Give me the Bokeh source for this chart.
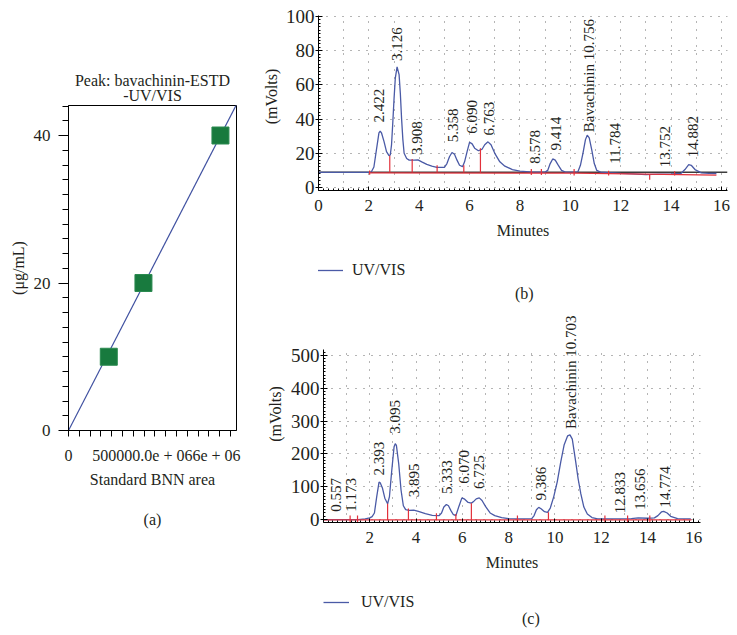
import math
import numpy as np
from bokeh.plotting import figure
from bokeh.layouts import row, column
from bokeh.models import (Label, Span, Legend, LegendItem, SingleIntervalTicker,
                          FixedTicker, Range1d, Title)
from bokeh.embed import file_html
from bokeh.resources import INLINE

FONT = "Liberation Serif"
INK = "#231f20"
BLUE = "#4a5aa6"
RED = "#e2313b"
GREEN = "#187a3e"
GRIDC = "#6a6a6a"

# ---------------- (a) calibration data ----------------
cal_conc = [10, 20, 40]                      # ug/mL
cal_area = [373000, 694000, 1407000]         # standard BNN area
a_title = ["Peak: bavachinin-ESTD", "-UV/VIS"]
a_xtick_text = "500000.0e + 066e + 06"

# ---------------- (b) standard chromatogram ----------------
b_time = [0.0, 2.0, 2.1, 2.2, 2.3, 2.4, 2.45, 2.5, 2.6, 2.7, 2.8, 2.85, 2.9, 2.95, 3.0,
          3.05, 3.12, 3.2, 3.25, 3.3, 3.35, 3.4, 3.5, 3.6, 3.8, 3.95, 4.1, 4.3, 4.5, 4.7,
          5.0, 5.1, 5.2, 5.3, 5.4, 5.5, 5.6, 5.72, 5.8, 5.9, 6.0, 6.1, 6.2, 6.35, 6.5,
          6.6, 6.73, 6.85, 7.0, 7.2, 7.4, 7.7, 8.0, 8.5, 9.0, 9.1, 9.2, 9.3, 9.4, 9.5,
          9.65, 9.8, 10.3, 10.4, 10.5, 10.6, 10.67, 10.75, 10.85, 10.95, 11.05, 11.2,
          11.5, 12.0, 12.5, 13.0, 13.5, 14.0, 14.4, 14.55, 14.7, 14.8, 14.95, 15.2,
          15.5, 15.8]
b_mv = [8.9, 8.9, 9.2, 12, 22, 32, 33, 32, 27, 21, 18.6, 19, 25, 38, 52,
        64, 70.5, 66, 55, 40, 28, 20, 17, 16, 16, 16.2, 15, 13.5, 12.5, 11.8,
        11.8, 14, 18, 20.5, 19.5, 16, 13, 12.2, 15, 21, 26.5, 25.5, 23, 21.5, 22.5,
        25, 26.7, 25, 20, 15, 12.5, 10.5, 9.6, 9.0, 9.0, 10, 14, 16.7, 16, 13.5,
        10, 9, 9.2, 13, 20, 28, 30.6, 29, 22, 14, 10, 9,
        8.7, 8.3, 8.0, 7.5, 7.8, 8.0, 8.3, 10.5, 13.4, 13, 10.5, 8.6,
        8.3, 8.2]
b_zero_level = 8.9
b_labels = ["2.422", "3.126", "3.908", "5.358", "6.090", "6.763", "8.578", "9.414",
            "Bavachinin 10.756", "11.784", "13.752", "14.882"]
b_label_y = [38, 74, 19, 26.5, 31.4, 30.4, 13.9, 21.6, 32.3, 13.9, 11.9, 17.7]
b_split_t = [2.03, 2.83, 3.72, 4.71, 5.77, 6.43, 8.45, 8.85, 10.15, 11.52, 13.15, 14.14]
b_split_lo = [7.5, 8.8, 8.8, 8.8, 8.8, 8.7, 7.3, 7.3, 7.0, 7.0, 4.5, 7.0]
b_split_hi = [10.0, 18.6, 16.7, 13.0, 13.0, 23.0, 10.8, 10.8, 10.8, 9.8, 7.5, 9.5]
b_base_t = [2.03, 10.15, 15.8]
b_base_v = [8.6, 8.4, 7.2]

# ---------------- (c) sample chromatogram ----------------
c_time = [0.0, 1.5, 1.8, 2.0, 2.1, 2.2, 2.3, 2.4, 2.45, 2.55, 2.65, 2.77, 2.85, 2.95,
          3.05, 3.1, 3.15, 3.25, 3.35, 3.45, 3.55, 3.7, 3.9, 4.1, 4.4, 4.7, 5.0, 5.1,
          5.2, 5.31, 5.4, 5.5, 5.6, 5.72, 5.85, 5.98, 6.1, 6.25, 6.39, 6.5, 6.6, 6.73,
          6.85, 7.0, 7.2, 7.4, 7.7, 8.0, 8.5, 9.0, 9.1, 9.2, 9.3, 9.4, 9.55, 9.68, 9.8,
          9.95, 10.1, 10.25, 10.4, 10.55, 10.65, 10.75, 10.9, 11.0, 11.12, 11.25, 11.4,
          11.6, 11.85, 12.5, 13.3, 13.6, 14.0, 14.3, 14.45, 14.6, 14.7, 14.85, 15.0,
          15.3, 15.87]
c_mv = [0, 0, 2, 5, 9, 20, 70, 114, 112, 95, 65, 48, 70, 150,
        222, 231, 226, 170, 90, 42, 30, 28, 29, 25, 18, 13, 12, 20,
        38, 46, 42, 28, 16, 12, 40, 66, 62, 52, 50, 56, 63, 66,
        58, 40, 20, 12, 6, 3, 2, 3, 12, 30, 37, 33, 24, 22, 35,
        70, 115, 175, 228, 255, 258, 245, 175, 125, 78, 38, 17,
        6, 2, 2, 3, 5, 4, 5, 12, 23, 25, 20, 10,
        3, 2]
c_labels = ["0.557", "1.173", "2.393", "3.095", "3.895", "5.333", "6.070", "6.725",
            "9.386", "Bavachinin 10.703", "12.833", "13.656", "14.774"]
c_label_y = [24, 24, 134, 261, 68, 78, 109, 93, 58, 276, 19, 30, 37]
c_split_t = [1.15, 1.47, 2.77, 3.67, 4.88, 5.72, 6.39, 8.38, 9.72, 12.16, 13.14, 14.1]
c_split_lo = [-8, -8, -2, -2, -2, -2, -2, -8, -2, -8, -8, -8]
c_split_hi = [12, 12, 48, 34, 19, 17, 50, 12, 22, 12, 12, 12]
c_base_t = [0.0, 15.9]
c_base_v = [-1, -1]

legend_text = "UV/VIS"


def no_align(p):
    try:
        p.frame_align = False
    except Exception:
        pass


def style_axes(p, tick_font="17px"):
    for ax in (p.xaxis[0], p.yaxis[0]):
        ax.axis_line_color = "black"
        ax.major_tick_line_color = "black"
        ax.minor_tick_line_color = "black"
        ax.major_label_text_font = FONT
        ax.major_label_text_font_size = tick_font
        ax.major_label_text_color = INK
        ax.axis_label_text_font = FONT
        ax.axis_label_text_font_size = "16px"
        ax.axis_label_text_font_style = "normal"
        ax.axis_label_text_color = INK


def side_title(p, text, offset, standoff):
    t = Title(text=text, align="center", offset=offset, text_font=FONT,
              text_font_size="16px", text_font_style="normal", text_color=INK)
    try:
        t.standoff = standoff
    except Exception:
        pass
    p.add_layout(t, "left")


def add_text(p, x, y, text, angle=0.0, align="center", baseline="middle", size="16px"):
    p.add_layout(Label(x=x, y=y, text=text, angle=angle, text_align=align,
                       text_baseline=baseline, text_font=FONT, text_font_size=size,
                       text_color=INK))


def blank(width, height, xr, bl, br):
    p = figure(width=width, height=height, x_range=Range1d(*xr), y_range=Range1d(0, height),
               output_backend="svg", toolbar_location=None,
               x_axis_location=None, y_axis_location=None,
               min_border_left=bl, min_border_right=br, min_border_top=0, min_border_bottom=0)
    p.grid.visible = False
    p.outline_line_color = None
    no_align(p)
    return p


# ======================= panel (a) =======================
xa_end = 1.5556e6
ya_end = 44.07
AW = 258
ta = blank(AW, 104, (0, xa_end), 68, 22)
add_text(ta, xa_end / 2, 24, a_title[0])
add_text(ta, xa_end / 2, 9, a_title[1])

pa = figure(width=AW, height=392, x_range=Range1d(0, xa_end), y_range=Range1d(0, ya_end),
            output_backend="svg", toolbar_location=None,
            min_border_left=68, min_border_right=22, min_border_top=1, min_border_bottom=66)
no_align(pa)
pa.grid.visible = False
pa.outline_line_color = "black"
style_axes(pa)
pa.xaxis.ticker = FixedTicker(ticks=[0, 907400],
                              minor_ticks=[100000 * i for i in range(0, 16)])
pa.xaxis.major_label_overrides = {0: "0", 907400: a_xtick_text}
pa.xaxis.major_label_text_font_size = "16px"
pa.xaxis.major_tick_out = 0
pa.xaxis.major_tick_in = 0
pa.xaxis.minor_tick_out = 6
pa.xaxis.minor_tick_in = 0
pa.xaxis.major_label_standoff = 10
pa.xaxis.axis_label = "Standard BNN area"
pa.xaxis.axis_label_standoff = 4
pa.yaxis.ticker = SingleIntervalTicker(interval=20, num_minor_ticks=10)
pa.yaxis.major_tick_out = 10
pa.yaxis.major_tick_in = 0
pa.yaxis.minor_tick_out = 6
pa.yaxis.minor_tick_in = 0
pa.yaxis.major_label_standoff = 8
side_title(pa, "(\u03bcg/mL)", -15.5, 8)

x_arr = np.array(cal_area, dtype=float)
y_arr = np.array(cal_conc, dtype=float)
slope = float((x_arr * y_arr).sum() / (x_arr ** 2).sum())
fit_x = np.array([0.0, 1.2 * x_arr.max()])
pa.line(fit_x, slope * fit_x, line_color="#3f50a0", line_width=1.2)
pa.scatter(cal_area, cal_conc, marker="square", size=17, fill_color=GREEN,
           line_color="#2b8a50", line_width=1)

capa = blank(AW, 50, (0, xa_end), 68, 22)
add_text(capa, xa_end / 2, 27, "(a)")


# ======================= chromatograms =======================
def chromatogram(width, height, xr, yr, ybounds, borders, t, v, labels, label_y,
                 split_t, split_lo, split_hi, base_t, base_v, yint, xticker,
                 ylab_standoff, ylab_offset=None, zero_level=None):
    bl, br, bt, bb = borders
    p = figure(width=width, height=height, x_range=Range1d(*xr), y_range=Range1d(*yr),
               output_backend="svg", toolbar_location=None,
               min_border_left=bl, min_border_right=br, min_border_top=bt, min_border_bottom=bb)
    no_align(p)
    p.outline_line_color = None
    style_axes(p)
    p.yaxis.major_label_text_font_size = "19px"
    p.xaxis.ticker = xticker
    p.yaxis.ticker = SingleIntervalTicker(interval=yint, num_minor_ticks=10)
    p.yaxis.bounds = ybounds
    p.xgrid.ticker = SingleIntervalTicker(interval=1)
    try:
        p.xgrid.cross_bounds = ybounds
    except Exception:
        pass
    p.ygrid.bounds = ybounds
    for g in (p.xgrid[0], p.ygrid[0]):
        g.grid_line_color = GRIDC
        g.grid_line_dash = "1 7"
        g.grid_line_width = 1
    for ax in (p.xaxis[0], p.yaxis[0]):
        ax.major_tick_in = 4
        ax.major_tick_out = 3
        ax.minor_tick_in = 2
        ax.minor_tick_out = 0
        ax.major_label_standoff = 1
    p.xaxis.major_tick_out = 0
    p.xaxis.major_label_standoff = 9
    p.xaxis.axis_label = "Minutes"
    p.xaxis.axis_label_standoff = 8
    if ylab_offset is None:
        p.yaxis.axis_label = "(mVolts)"
        p.yaxis.axis_label_standoff = ylab_standoff
    else:
        side_title(p, "(mVolts)", ylab_offset, ylab_standoff)

    if zero_level is not None:
        p.add_layout(Span(location=zero_level, dimension="width", line_color="#3c3c3c",
                          line_width=1.6, level="underlay"))
    p.line(t, v, line_color=BLUE, line_width=1.3)
    p.line(base_t, base_v, line_color=RED, line_width=1.2)
    p.segment(x0=split_t, y0=split_lo, x1=split_t, y1=split_hi, line_color=RED, line_width=1.2)

    for txt, yb in zip(labels, label_y):
        xt = float(txt.split()[-1])
        add_text(p, xt, yb, txt, angle=math.pi / 2, align="left", baseline="middle", size="15px")
    return p


def legend_box(width, height, xr, bl, br, loc, standoff, caption, cap_xy):
    p = blank(width, height, xr, bl, br)
    r = p.line(x=[float("nan")], y=[float("nan")], line_color=BLUE, line_width=1.3)
    leg = Legend(items=[LegendItem(label=legend_text, renderers=[r])], location=loc,
                 padding=0, margin=0, border_line_color=None, background_fill_alpha=0,
                 glyph_width=26, glyph_height=18, label_height=18,
                 label_standoff=standoff, label_text_font=FONT,
                 label_text_font_size="16px", label_text_color=INK)
    p.add_layout(leg)
    add_text(p, cap_xy[0], cap_xy[1], caption)
    return p


RW = 737 - AW
xb = (0, 16.24)
pb = chromatogram(RW, 253, xb, (-1.75, 108.2), (-1.75, 100.6), (60, 10, 2, 63),
                  b_time, b_mv, b_labels, b_label_y, b_split_t, b_split_lo, b_split_hi,
                  b_base_t, b_base_v, 20, SingleIntervalTicker(interval=2, num_minor_ticks=10),
                  3, zero_level=b_zero_level)
legb = legend_box(RW, 52, xb, 60, 10, (-1, 26), 9, "(b)", (8.17, 12))

xc = (0, 16.29)
c_ticker = FixedTicker(ticks=list(range(2, 17, 2)),
                       minor_ticks=[round(0.2 * i, 1) for i in range(0, 82)])
pc = chromatogram(RW, 275, xc, (-9, 652), (-9, 518), (65, 37, 0, 58),
                  c_time, c_mv, c_labels, c_label_y, c_split_t, c_split_lo, c_split_hi,
                  c_base_t, c_base_v, 100, c_ticker, 7, ylab_offset=-20.5)
legc = legend_box(RW, 55, xc, 65, 37, (0, 24), 12, "(c)", (8.96, 17))

layout = row(column(ta, pa, capa), column(pb, legb, pc, legc))
open("out.html", "w").write(file_html(layout, INLINE))
